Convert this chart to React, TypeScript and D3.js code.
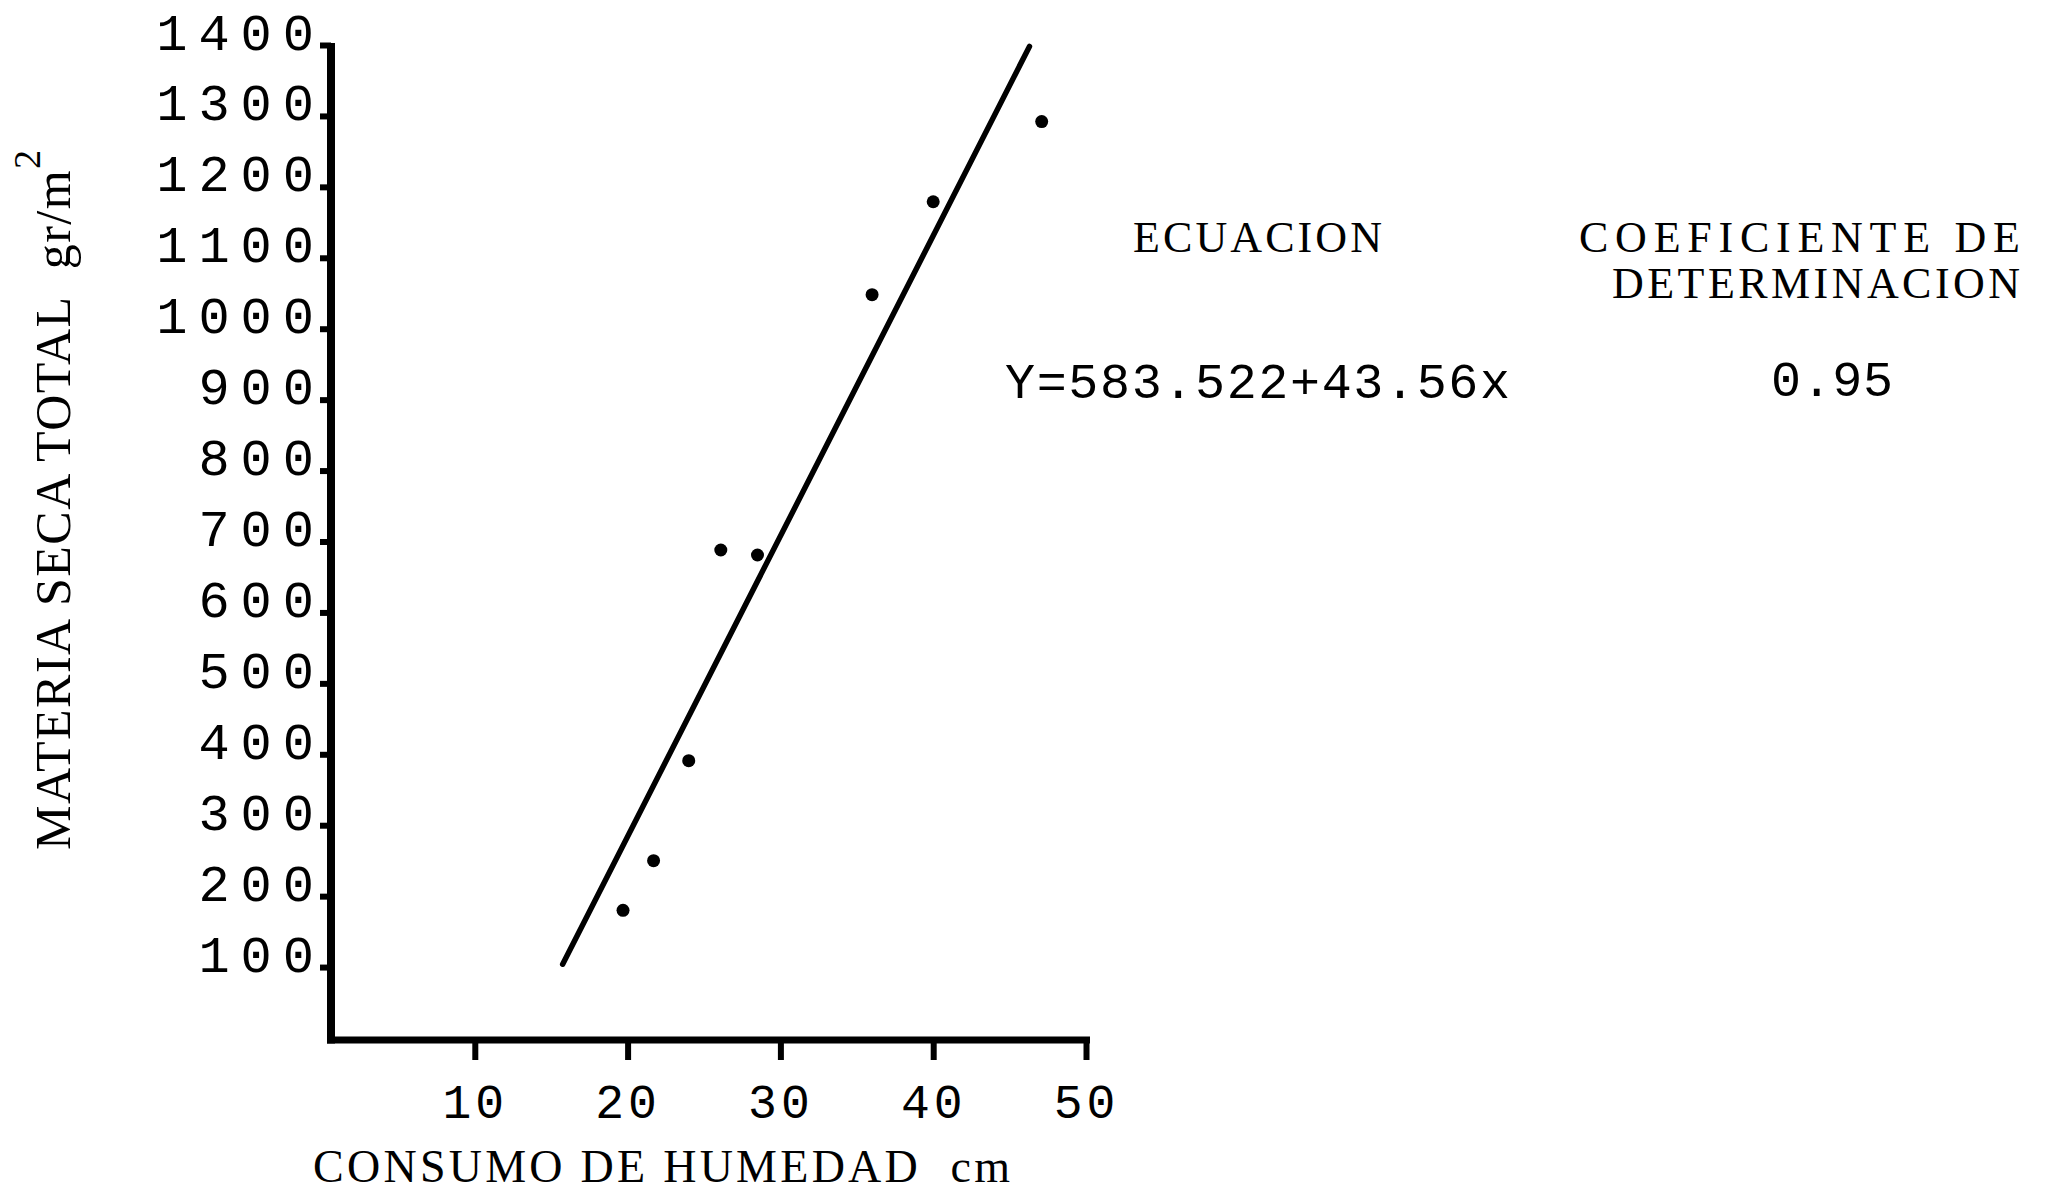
import { useRef, useEffect } from "react";
import * as d3 from "d3";

// consumo de humedad (cm) vs materia seca total (gr/m2)
const consumo = [19.7, 21.7, 24.0, 26.1, 28.5, 36.0, 40.0, 47.1];
const materiaSeca = [180, 250, 391, 688, 681, 1048, 1179, 1292];

// ends of the drawn regression line
const rectaX = [15.75, 46.3];
const rectaY = [104, 1398];

const xTicks = [10, 20, 30, 40, 50];
const yTicks = [100, 200, 300, 400, 500, 600, 700, 800, 900, 1000, 1100, 1200, 1300, 1400];

const ecuacion = "Y=583.522+43.56x";
const coeficiente = "0.95";

const MONO = "'Liberation Mono', 'DejaVu Sans Mono', monospace";
const SERIF = "'Liberation Serif', 'DejaVu Serif', serif";

const App = () => {
  const svgRef = useRef<SVGSVGElement>(null);

  useEffect(() => {
    const w = 2050;
    const h = 1195;
    const svg = d3.select(svgRef.current).attr("width", w).attr("height", h);
    svg.selectAll("*").remove();

    svg.append("rect").attr("width", w).attr("height", h).attr("fill", "white");

    const xScale = d3.scaleLinear().domain([0, 50]).range([322, 1086]);
    const yScale = d3.scaleLinear().domain([0, 1400]).range([1038, 45]);

    const axisX = 331; // y axis line position
    const axisY = 1040; // x axis line position

    // y axis
    const yAxis = d3
      .axisLeft(yScale)
      .tickValues(yTicks)
      .tickSize(11)
      .tickSizeOuter(0)
      .tickFormat((d) => String(d));
    const gy = svg.append("g").attr("transform", `translate(${axisX},0)`).call(yAxis);
    gy.select(".domain").remove();
    gy.selectAll(".tick line").attr("stroke", "black").attr("stroke-width", 6);
    gy.selectAll(".tick text")
      .attr("x", -6)
      .attr("dy", 4)
      .style("font-family", MONO)
      .style("font-size", "52px")
      .style("letter-spacing", "11px")
      .attr("fill", "black");

    // x axis
    const xAxis = d3
      .axisBottom(xScale)
      .tickValues(xTicks)
      .tickSize(20)
      .tickSizeOuter(0)
      .tickFormat((d) => String(d));
    const gx = svg.append("g").attr("transform", `translate(0,${axisY})`).call(xAxis);
    gx.select(".domain").remove();
    gx.selectAll(".tick line").attr("stroke", "black").attr("stroke-width", 6);
    gx.selectAll(".tick text")
      .attr("y", 78)
      .attr("dy", 0)
      .attr("x", 0)
      .style("font-family", MONO)
      .style("font-size", "48px")
      .style("letter-spacing", "4px")
      .attr("fill", "black");

    // axis lines
    svg
      .append("line")
      .attr("x1", axisX)
      .attr("x2", axisX)
      .attr("y1", yScale(1400) - 2)
      .attr("y2", axisY + 3.5)
      .attr("stroke", "black")
      .attr("stroke-width", 8);
    svg
      .append("line")
      .attr("x1", axisX - 4)
      .attr("x2", xScale(50) + 4)
      .attr("y1", axisY)
      .attr("y2", axisY)
      .attr("stroke", "black")
      .attr("stroke-width", 7);

    // regression line
    const line = d3
      .line<number>()
      .x((d, i) => xScale(rectaX[i]))
      .y((d) => yScale(d));
    svg
      .append("path")
      .attr("d", line(rectaY))
      .attr("fill", "none")
      .attr("stroke", "black")
      .attr("stroke-width", 5.5)
      .attr("stroke-linecap", "round");

    // points
    svg
      .selectAll(".punto")
      .data(consumo)
      .join("circle")
      .attr("class", "punto")
      .attr("cx", (d) => xScale(d))
      .attr("cy", (d, i) => yScale(materiaSeca[i]))
      .attr("r", 6.5)
      .attr("fill", "black");

    // y axis title
    const yTitle = svg
      .append("text")
      .attr("transform", "translate(70,850) rotate(-90)")
      .style("font-family", SERIF)
      .style("font-size", "50px")
      .style("letter-spacing", "1.5px")
      .style("white-space", "pre")
      .attr("fill", "black");
    yTitle.append("tspan").text("MATERIA SECA TOTAL  gr/m");
    yTitle.append("tspan").attr("dy", -30).style("font-size", "38px").text("2");

    // x axis title
    svg
      .append("text")
      .attr("x", 313)
      .attr("y", 1182)
      .attr("textLength", 697)
      .attr("lengthAdjust", "spacing")
      .style("white-space", "pre")
      .style("font-family", SERIF)
      .style("font-size", "46px")
      .attr("fill", "black")
      .text("CONSUMO DE HUMEDAD  cm");

    // table on the right
    const textos = [
      { t: "ECUACION", x: 1133, y: 252, len: 249, f: SERIF },
      { t: "COEFICIENTE DE", x: 1579, y: 252, len: 441, f: SERIF },
      { t: "DETERMINACION", x: 1612, y: 298, len: 408, f: SERIF },
      { t: ecuacion, x: 1005, y: 398, len: 505, f: MONO },
      { t: coeficiente, x: 1771, y: 396, len: 122, f: MONO },
    ];
    svg
      .selectAll(".tabla")
      .data(textos)
      .join("text")
      .attr("class", "tabla")
      .attr("x", (d) => d.x)
      .attr("y", (d) => d.y)
      .attr("textLength", (d) => d.len)
      .attr("lengthAdjust", "spacing")
      .style("font-family", (d) => d.f)
      .style("font-size", (d) => (d.f === MONO ? "50px" : "44px"))
      .attr("fill", "black")
      .text((d) => d.t);
  }, []);

  return (
    <div style={{ position: "absolute", left: 0, top: 0 }}>
      <svg ref={svgRef} style={{ display: "block" }}></svg>
    </div>
  );
};

export default App;
